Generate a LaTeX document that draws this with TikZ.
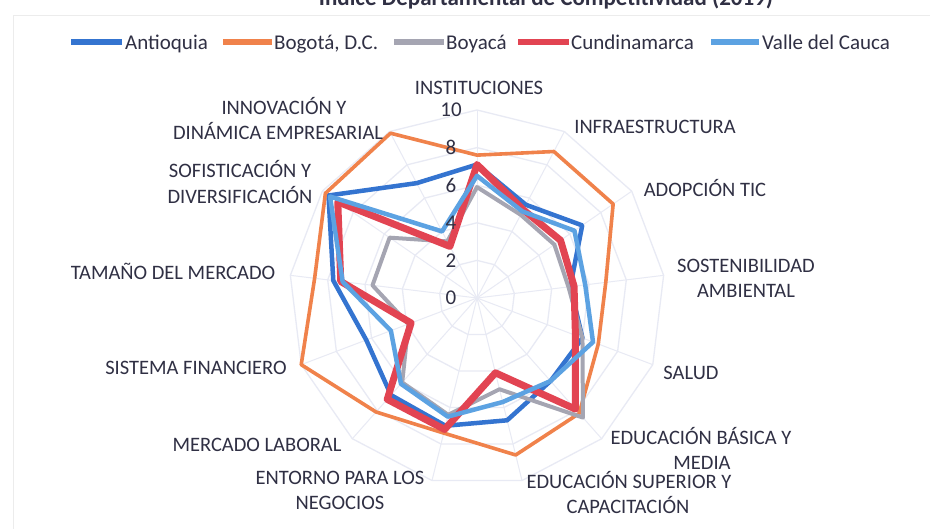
\documentclass[tikz,border=0pt]{standalone}
\usepackage{fontspec}
\setmainfont{Carlito}
\definecolor{antioquia}{RGB}{52,116,208}
\definecolor{bogota}{RGB}{240,130,75}
\definecolor{boyaca}{RGB}{165,165,178}
\definecolor{cundi}{RGB}{226,68,82}
\definecolor{valle}{RGB}{92,162,226}
\definecolor{gridc}{RGB}{232,234,244}
\definecolor{txt}{RGB}{48,48,68}
\newcommand\radarpoly[3]{\draw[#1] (90:{#2*18.8}) \foreach \val [count=\k] in {#3} { -- ({90-\k*360/13}:{\val*18.8}) } -- cycle;}
\begin{document}
\begin{tikzpicture}[x=1pt,y=-1pt,
  lab/.style={font=\fontsize{20.5}{24}\selectfont, text=txt, inner sep=0pt, anchor=base},
  legtext/.style={font=\fontsize{21}{24}\selectfont, text=txt, inner sep=0pt, anchor=base west},
  legline/.style={line width=5.5pt},
  tick/.style={font=\fontsize{21}{24}\selectfont, text=txt, inner sep=0pt, anchor=center},
  gridline/.style={draw=gridc, line width=1.3pt},
  spoke/.style={draw=gridc, line width=1pt},
  series/.style={line join=round, line cap=round}]
\useasboundingbox (0,0) rectangle (930,529);
\fill[white] (0,0) rectangle (930,529);
% faint frame
\draw[gray!15, line width=0.8pt] (13,560) -- (13,15) -- (960,15);
% title (cut off at top)
\node[font=\bfseries\fontsize{23}{26}\selectfont, anchor=base, inner sep=0pt, text=txt] (title) at (546,6) {Índice Departamental de Competitividad (2019)};
% legend
\draw[legline, antioquia] (71,42) -- (122,42);
\node[legtext] (lA) at (125,50) {Antioquia};
\draw[legline, bogota] (223,42) -- (272,42);
\node[legtext] (lB) at (274,50) {Bogotá, D.C.};
\draw[legline, boyaca] (394,42) -- (444,42);
\node[legtext] (lY) at (446,50) {Boyacá};
\draw[legline, cundi] (518,42) -- (569,42);
\node[legtext] (lC) at (571,50) {Cundinamarca};
\draw[legline, valle] (711,42) -- (759,42);
\node[legtext] (lV) at (762,50) {Valle del Cauca};
% radar
\begin{scope}[shift={(477,298)}, yscale=-1]
  \foreach \v in {2,4,6,8,10}
    \draw[gridline] (90:{\v*18.8}) \foreach \k in {1,...,12} { -- ({90-\k*360/13}:{\v*18.8}) } -- cycle;
  \foreach \k in {0,...,12}
    \draw[spoke] (0,0) -- ({90-\k*360/13}:188);
  \radarpoly{series, antioquia, line width=4.5pt}{7.1}{5.6,6.8,5.0,6.0,5.9,6.7,7.0,6.9,6.3,7.7,9.6,6.9}
  \radarpoly{series, bogota, line width=3.6pt}{7.6}{8.8,8.8,6.9,6.9,8.2,8.6,7.4,8.1,10.0,8.7,9.8,9.9}
  \radarpoly{series, boyaca, line width=4pt}{5.9}{5.0,5.0,4.9,6.0,8.5,5.0,6.4,6.0,3.9,5.6,5.65,3.4}
  \radarpoly{series, cundi, line width=7pt}{7.1}{5.3,5.4,5.2,5.6,7.9,4.1,7.2,7.2,3.75,7.3,9.0,3.1}
  \radarpoly{series, valle, line width=4.5pt}{6.5}{5.2,6.3,5.8,6.6,5.9,5.7,6.5,6.1,4.9,7.2,9.5,4.0}
\end{scope}
% tick labels
\foreach \v in {0,2,4,6,8,10}
  \node[tick] (t\v) at (451,{298-\v*18.8}) {\v};
% axis labels
\node[lab] (a0) at (479,95) {INSTITUCIONES};
\node[lab] (a1) at (655,134) {INFRAESTRUCTURA};
\node[lab] (a2) at (705,197) {ADOPCIÓN TIC};
\node[lab] (a3a) at (746,273) {SOSTENIBILIDAD};
\node[lab] (a3b) at (746,298) {AMBIENTAL};
\node[lab] (a4) at (691,380) {SALUD};
\node[lab] (a5a) at (701,445) {EDUCACIÓN BÁSICA Y};
\node[lab] (a5b) at (702,470) {MEDIA};
\node[lab] (a6a) at (629,489) {EDUCACIÓN SUPERIOR Y};
\node[lab] (a6b) at (628,513) {CAPACITACIÓN};
\node[lab] (a7a) at (340,485) {ENTORNO PARA LOS};
\node[lab] (a7b) at (340,510) {NEGOCIOS};
\node[lab] (a8) at (257,452) {MERCADO LABORAL};
\node[lab] (a9) at (196,375) {SISTEMA FINANCIERO};
\node[lab] (a10) at (173,280) {TAMAÑO DEL MERCADO};
\node[lab] (a11a) at (240,178) {SOFISTICACIÓN Y};
\node[lab] (a11b) at (240,204) {DIVERSIFICACIÓN};
\node[lab] (a12a) at (284,115) {INNOVACIÓN Y};
\node[lab] (a12b) at (278,140) {DINÁMICA EMPRESARIAL};
\end{tikzpicture}
\end{document}
